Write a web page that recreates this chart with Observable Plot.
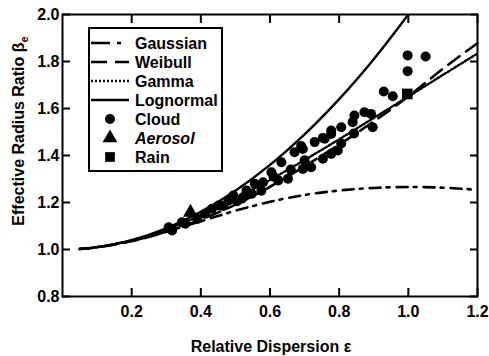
<!DOCTYPE html>
<html><head><meta charset="utf-8">
<script src="https://cdn.jsdelivr.net/npm/d3@7"></script>
<script src="https://cdn.jsdelivr.net/npm/@observablehq/plot@0.6"></script>
<style>body{margin:0;background:#fff}</style>
</head><body><div id="chart"></div>
<script>
// ---- data ----
const eps = [0.05, 0.1, 0.2, 0.3, 0.4, 0.5, 0.6, 0.7, 0.8, 0.9, 1.0, 1.1, 1.2];
const gaussian = [1.002, 1.010, 1.037, 1.076, 1.120, 1.165, 1.203, 1.232, 1.251, 1.262, 1.266, 1.263, 1.254];
const weibull  = [1.002, 1.009, 1.035, 1.075, 1.127, 1.191, 1.267, 1.354, 1.446, 1.545, 1.651, 1.769, 1.878];
const gamma    = [1.002, 1.010, 1.039, 1.085, 1.145, 1.216, 1.296, 1.381, 1.469, 1.560, 1.651, 1.743, 1.834];
const lognormalEps = [0.05, 0.1, 0.2, 0.3, 0.4, 0.5, 0.6, 0.7, 0.8, 0.9, 1.0];
const lognormal    = [1.003, 1.010, 1.040, 1.090, 1.160, 1.250, 1.360, 1.490, 1.640, 1.810, 2.000];

const cloudEps  = [0.998, 1.050, 0.998, 0.929, 0.955,
  0.873, 0.892, 0.844, 0.839, 0.897, 0.806, 0.777, 0.843, 0.753, 0.806,
  0.633, 0.671, 0.695, 0.729, 0.758, 0.777, 0.753, 0.777, 0.796, 0.695, 0.719,
  0.604, 0.624, 0.652, 0.556, 0.580, 0.532, 0.523,
  0.307, 0.317, 0.345, 0.412, 0.432, 0.451, 0.480, 0.494, 0.518, 0.547, 0.575, 0.690, 0.700,
  0.355, 0.390, 0.465, 0.505, 0.610, 0.660];
const cloudBeta = [1.826, 1.821, 1.759, 1.672, 1.652,
  1.584, 1.577, 1.570, 1.542, 1.520, 1.520, 1.506, 1.494, 1.475, 1.451,
  1.371, 1.414, 1.428, 1.457, 1.471, 1.492, 1.386, 1.407, 1.421, 1.343, 1.350,
  1.329, 1.294, 1.301, 1.280, 1.286, 1.251, 1.223,
  1.095, 1.081, 1.116, 1.152, 1.173, 1.187, 1.209, 1.230, 1.216, 1.237, 1.250, 1.440, 1.380,
  1.110, 1.130, 1.185, 1.205, 1.310, 1.340];
const aerosolEps  = [0.370];
const aerosolBeta = [1.158];
const rainEps  = [0.997];
const rainBeta = [1.662];

const xTicks = [0.2, 0.4, 0.6, 0.8, 1.0, 1.2];
const yTicks = [0.8, 1.0, 1.2, 1.4, 1.6, 1.8, 2.0];
const legendLabels = ["Gaussian", "Weibull", "Gamma", "Lognormal", "Cloud", "Aerosol", "Rain"];

// ---- build tables ----
const curve = (xs, ys) => xs.map((x, i) => ({x, y: ys[i]}));
const pts = (xs, ys) => xs.map((x, i) => ({x, y: ys[i]}));

const FONT = "'Liberation Sans', Arial, Helvetica, sans-serif";
const fmt = d3.format(".1f");

const plot = Plot.plot({
  width: 489, height: 356,
  marginLeft: 62, marginRight: 12, marginTop: 14, marginBottom: 60,
  style: {fontFamily: FONT, fontSize: "16px", fontWeight: "bold", background: "white", color: "black"},
  x: {domain: [0, 1.2]},
  y: {domain: [0.8, 2.0]},
  marks: [
    Plot.line(curve(eps, gaussian), {x: "x", y: "y", stroke: "black", strokeWidth: 2.6, strokeDasharray: "11 6 3 7", curve: "catmull-rom"}),
    Plot.line(curve(eps, weibull), {x: "x", y: "y", stroke: "black", strokeWidth: 2.6, strokeDasharray: "14 8", curve: "catmull-rom"}),
    Plot.line(curve(eps, gamma), {x: "x", y: "y", stroke: "black", strokeWidth: 2.4, strokeDasharray: "2 2", curve: "catmull-rom"}),
    Plot.line(curve(lognormalEps, lognormal), {x: "x", y: "y", stroke: "black", strokeWidth: 2.4, curve: "catmull-rom", clip: true}),
    Plot.dot(pts(cloudEps, cloudBeta), {x: "x", y: "y", r: 5, fill: "black", symbol: "circle"}),
    Plot.dot(pts(aerosolEps, aerosolBeta), {x: "x", y: "y", r: 5.5, fill: "black", symbol: "triangle"}),
    Plot.dot(pts(rainEps, rainBeta), {x: "x", y: "y", r: 6, fill: "black", symbol: "square"}),
    Plot.axisX({anchor: "bottom", ticks: xTicks, tickSize: -8, tickPadding: 17, tickFormat: fmt, strokeWidth: 2, fontSize: 16, fontWeight: "bold", label: null}),
    Plot.axisX({anchor: "top", ticks: xTicks, tickSize: -8, tickFormat: () => "", strokeWidth: 2, label: null}),
    Plot.axisY({anchor: "left", ticks: yTicks, tickSize: -8, tickPadding: 11, tickFormat: fmt, strokeWidth: 2, fontSize: 16, fontWeight: "bold", label: null}),
    Plot.axisY({anchor: "right", ticks: yTicks, tickSize: -8, tickFormat: () => "", strokeWidth: 2, label: null}),
    Plot.frame({stroke: "black", strokeWidth: 2})
  ]
});

const svg = d3.select(plot);

// axis titles
const yt = svg.append("text")
  .attr("transform", "translate(23.5,131) rotate(-90)")
  .attr("text-anchor", "middle")
  .attr("font-family", FONT).attr("font-size", 16).attr("font-weight", "bold").attr("fill", "black");
yt.append("tspan").text("Effective Radius Ratio β");
yt.append("tspan").attr("font-size", 11).attr("dy", 4).text("e");

svg.append("text")
  .attr("x", 271).attr("y", 352)
  .attr("text-anchor", "middle")
  .attr("font-family", FONT).attr("font-size", 16).attr("font-weight", "bold").attr("fill", "black")
  .text("Relative Dispersion ε");

// legend
const lg = svg.append("g").attr("text-anchor", "start");
lg.append("rect").attr("x", 89).attr("y", 28).attr("width", 133).attr("height", 143)
  .attr("fill", "white").attr("stroke", "black").attr("stroke-width", 2);
const rowY = i => 43 + 19 * i;
const dashes = ["19 7 4 20", "16 8", "2 2", null];
dashes.forEach((d, i) => {
  const l = lg.append("line").attr("x1", 91).attr("x2", 129).attr("y1", rowY(i)).attr("y2", rowY(i))
    .attr("stroke", "black").attr("stroke-width", 2.6);
  if (d) l.attr("stroke-dasharray", d);
});
[d3.symbolCircle, d3.symbolTriangle, d3.symbolSquare].forEach((s, j) => {
  const size = j === 0 ? Math.PI * 25 : Math.PI * 30;
  lg.append("path").attr("d", d3.symbol(s, size)())
    .attr("transform", `translate(110,${rowY(4 + j)})`).attr("fill", "black");
});
legendLabels.forEach((t, i) => {
  lg.append("text").attr("x", 135).attr("y", rowY(i) + 5.7)
    .attr("text-anchor", "start")
    .attr("font-family", FONT).attr("font-size", 16).attr("font-weight", "bold")
    .attr("font-style", t === "Aerosol" ? "italic" : "normal").attr("fill", "black")
    .text(t);
});

document.getElementById("chart").append(plot);
</script></body></html>
